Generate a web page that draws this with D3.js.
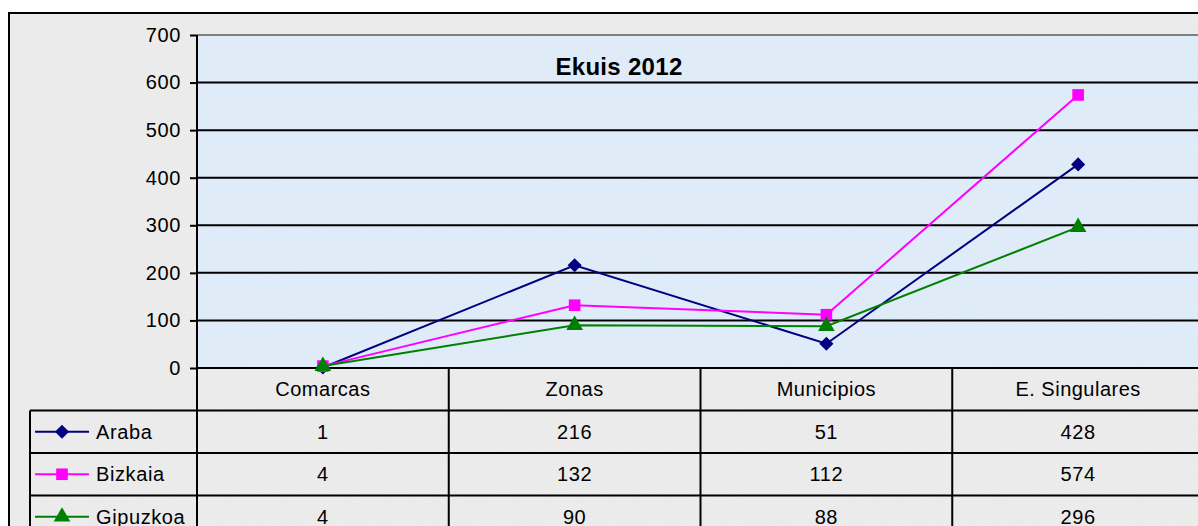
<!DOCTYPE html>
<html>
<head>
<meta charset="utf-8">
<script src="https://cdn.jsdelivr.net/npm/d3@7"></script>
<style>
  body { margin: 0; background: #fff; overflow: hidden; }
  text { font-family: "Liberation Sans", Arial, sans-serif; fill: #000; }
</style>
</head>
<body>
<svg id="chart" width="1198" height="526"></svg>
<script>
// data
const categories = ["Comarcas", "Zonas", "Municipios", "E. Singulares"];
const araba = [1, 216, 51, 428];
const bizkaia = [4, 132, 112, 574];
const gipuzkoa = [4, 90, 88, 296];
const yTicks = [0, 100, 200, 300, 400, 500, 600, 700];
const chartTitle = "Ekuis 2012";

const seriesList = [
  {name: "Araba", values: araba, color: "#000080", marker: d3.symbolSquare, size: 100, rotate: 45},
  {name: "Bizkaia", values: bizkaia, color: "#ff00ff", marker: d3.symbolSquare, size: 135, rotate: 0},
  {name: "Gipuzkoa", values: gipuzkoa, color: "#008000", marker: d3.symbolTriangle, size: 120, rotate: 0}
];

let svg = d3.select("#chart");
let plot = {left: 197, right: 1204, top: 35, bottom: 368};
let rowH = 42.5;
let fontSize = "20px";

// textures
let defs = svg.append("defs");
let fGrey = defs.append("filter").attr("id", "noise")
    .attr("x", 0).attr("y", 0).attr("width", "100%").attr("height", "100%");
fGrey.append("feTurbulence").attr("type", "fractalNoise").attr("baseFrequency", 0.9)
    .attr("numOctaves", 2).attr("seed", 3).attr("result", "t");
fGrey.append("feColorMatrix").attr("in", "t").attr("type", "matrix")
    .attr("values", "0 0 0 0 0.6  0 0 0 0 0.6  0 0 0 0 0.6  0 0 0 0.18 0").attr("result", "n");
fGrey.append("feComposite").attr("in", "n").attr("in2", "SourceGraphic").attr("operator", "in").attr("result", "nn");
fGrey.append("feMerge").selectAll("feMergeNode").data(["SourceGraphic", "nn"]).enter()
    .append("feMergeNode").attr("in", d => d);

let xScale = d3.scaleBand()
    .domain(categories)
    .range([plot.left, plot.right]);

let yScale = d3.scaleLinear()
    .domain([0, 700])
    .range([plot.bottom, plot.top]);

function cx(j) {
    return xScale(categories[j]) + xScale.bandwidth() / 2;
}

// chart background
svg.append("rect")
    .attr("x", 9).attr("y", 13)
    .attr("width", 1300).attr("height", 600)
    .attr("fill", "#eeeeee")
    .attr("filter", "url(#noise)");
svg.append("rect")
    .attr("x", 9).attr("y", 13)
    .attr("width", 1300).attr("height", 600)
    .attr("fill", "none")
    .attr("stroke", "#000")
    .attr("stroke-width", 2);

// plot area
svg.append("rect")
    .attr("x", plot.left).attr("y", plot.top)
    .attr("width", plot.right - plot.left).attr("height", plot.bottom - plot.top)
    .attr("fill", "#e1eefc")
    .attr("filter", "url(#noise)");

// grid
svg.append("g").selectAll("line")
    .data(yTicks.filter(d => d > 0))
    .enter().append("line")
    .attr("x1", plot.left).attr("x2", plot.right)
    .attr("y1", d => yScale(d)).attr("y2", d => yScale(d))
    .attr("stroke", d => d === 700 ? "#808080" : "#000")
    .attr("stroke-width", 2);

// y axis
let yAxis = d3.axisLeft(yScale)
    .tickValues(yTicks)
    .tickSize(7)
    .tickPadding(9);
let yG = svg.append("g")
    .attr("transform", "translate(" + plot.left + ",0)")
    .call(yAxis);
yG.select(".domain").remove();
yG.selectAll(".tick line").attr("stroke", "#000").attr("stroke-width", 2);
yG.selectAll(".tick text")
    .style("font-family", "Liberation Sans, Arial, sans-serif")
    .style("font-size", fontSize)
    .style("letter-spacing", "0.6px")
    .attr("fill", "#000");

// table lines
let tableBottom = 600;
let tableG = svg.append("g");
[0, 1, 2, 3].forEach(function (i) {
    tableG.append("line")
        .attr("x1", i === 0 ? plot.left : 30).attr("x2", plot.right)
        .attr("y1", plot.bottom + i * rowH).attr("y2", plot.bottom + i * rowH)
        .attr("stroke", "#000").attr("stroke-width", 2);
});
let colEdges = categories.map(c => xScale(c));
tableG.selectAll(".vcol")
    .data(colEdges)
    .enter().append("line")
    .attr("class", "vcol")
    .attr("x1", d => d).attr("x2", d => d)
    .attr("y1", (d, i) => i === 0 ? plot.top : plot.bottom)
    .attr("y2", tableBottom)
    .attr("stroke", "#000").attr("stroke-width", 2);
tableG.append("line")
    .attr("x1", 30).attr("x2", 30)
    .attr("y1", plot.bottom + rowH).attr("y2", tableBottom)
    .attr("stroke", "#000").attr("stroke-width", 2);

// category header
svg.append("g").selectAll("text")
    .data(categories)
    .enter().append("text")
    .attr("x", (d, j) => cx(j))
    .attr("y", plot.bottom + rowH / 2 + 7)
    .attr("text-anchor", "middle")
    .style("font-size", fontSize)
    .style("letter-spacing", "0.5px")
    .text(d => d);

// table rows
seriesList.forEach(function (s, i) {
    let cy = plot.bottom + rowH * (i + 1) + rowH / 2;
    let row = svg.append("g");
    row.append("line")
        .attr("x1", 35).attr("x2", 89)
        .attr("y1", cy).attr("y2", cy)
        .attr("stroke", s.color).attr("stroke-width", 2);
    row.append("path")
        .attr("d", d3.symbol().type(s.marker).size(s.size))
        .attr("transform", "translate(62," + cy + ") rotate(" + s.rotate + ")")
        .attr("fill", s.color);
    row.append("text")
        .attr("x", 96).attr("y", cy + 7)
        .style("font-size", fontSize)
        .style("letter-spacing", "0.6px")
        .text(s.name);
    row.selectAll(".val")
        .data(s.values)
        .enter().append("text")
        .attr("class", "val")
        .attr("x", (d, j) => cx(j))
        .attr("y", cy + 7)
        .attr("text-anchor", "middle")
        .style("font-size", fontSize)
        .style("letter-spacing", "0.6px")
        .text(d => d);
});

// lines and markers
let line = d3.line()
    .x((d, j) => cx(j))
    .y(d => yScale(d));

seriesList.forEach(function (s) {
    svg.append("path")
        .datum(s.values)
        .attr("fill", "none")
        .attr("stroke", s.color)
        .attr("stroke-width", 2)
        .attr("d", line);
});
seriesList.forEach(function (s) {
    svg.append("g").selectAll("path")
        .data(s.values)
        .enter().append("path")
        .attr("d", d3.symbol().type(s.marker).size(s.size))
        .attr("transform", (d, j) => "translate(" + cx(j) + "," + yScale(d) + ") rotate(" + s.rotate + ")")
        .attr("fill", s.color);
});

// title
svg.append("text")
    .attr("x", 619).attr("y", 75)
    .attr("text-anchor", "middle")
    .style("font-size", "24px")
    .style("font-weight", "bold")
    .style("letter-spacing", "0.3px")
    .text(chartTitle);
</script>
</body>
</html>
